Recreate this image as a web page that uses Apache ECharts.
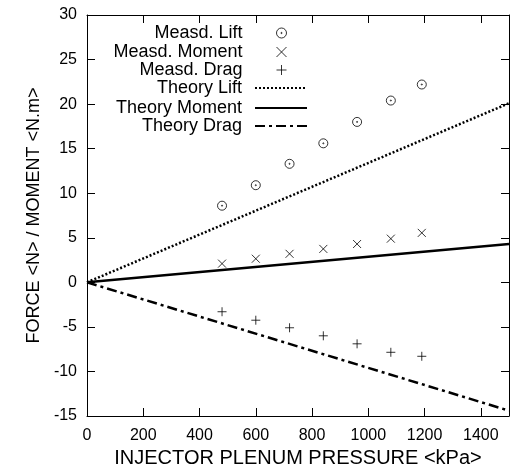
<!DOCTYPE html>
<html>
<head>
<meta charset="utf-8">
<script src="https://cdn.jsdelivr.net/npm/echarts@6/dist/echarts.min.js"></script>
<style>html,body{margin:0;padding:0;background:#fff}#c{width:510px;height:472px}</style>
</head>
<body>
<div id="c"></div>
<script>
var pressure = [480, 600, 720, 840, 960, 1080, 1190];
var measLift = [8.6, 10.9, 13.3, 15.6, 18.0, 20.4, 22.2];
var measMoment = [2.1, 2.65, 3.2, 3.75, 4.3, 4.9, 5.55];
var measDrag = [-3.3, -4.25, -5.1, -6.0, -6.9, -7.85, -8.3];
var theoryX = [0, 1500];
var theoryLift = [0, 20.1];
var theoryMoment = [0, 4.3];
var theoryDrag = [0, -14.4];
var xTicks = [0, 200, 400, 600, 800, 1000, 1200, 1400];
var yTicks = [-15, -10, -5, 0, 5, 10, 15, 20, 25, 30];

function pairs(xs, ys) { return xs.map(function (x, i) { return [x, ys[i]]; }); }

var FONT = 'Liberation Sans';
var NARROW = '"Liberation Sans Narrow", "Arial Narrow", "Liberation Sans"';
var circleDot = 'path://M5,0A5,5,0,1,1,5,10A5,5,0,1,1,5,0ZM5,4.4A0.6,0.6,0,1,1,5,5.6A0.6,0.6,0,1,1,5,4.4Z';
var crossX = 'path://M0,0L10,10M10,0L0,10';
var plus = 'path://M5,0L5,10M0,5L10,5';

var names = ['Measd. Lift', 'Measd. Moment', 'Measd. Drag', 'Theory Lift', 'Theory Moment', 'Theory Drag'];
var rowTops = [24, 43, 61, 79, 99, 117];
var scatterStyle = { color: 'none', borderColor: '#000', borderWidth: 1 };
var legends = names.map(function (n, i) {
  var isLine = i >= 3;
  return {
    data: [n], right: isLine ? 202 : 221, top: rowTops[i], orient: 'vertical', align: 'right',
    itemWidth: 52, itemHeight: 10, padding: 0, symbolKeepAspect: true,
    itemStyle: isLine ? { opacity: 0 } : scatterStyle,
    textStyle: { fontFamily: FONT, fontSize: 18, color: '#000', lineHeight: 18, padding: [0, 8, 0, 0] }
  };
});

var xTickSet = {}; xTicks.forEach(function (v) { xTickSet[v] = true; });
var yTickSet = {}; yTicks.forEach(function (v) { yTickSet[v] = true; });

function xAxisBase(pos, labels) {
  return {
    type: 'value', position: pos, min: 0, max: 1500, interval: 200,
    axisLine: { show: true, onZero: false, lineStyle: { color: '#000', width: 1 } },
    axisTick: { show: true, inside: true, length: 8, lineStyle: { color: '#000' } },
    axisLabel: { show: labels, color: '#000', fontFamily: NARROW, fontSize: 16, margin: 12,
      formatter: function (v) { return xTickSet[v] ? String(v) : ''; } },
    splitLine: { show: false }
  };
}
function yAxisBase(pos, labels) {
  return {
    type: 'value', position: pos, min: -15, max: 30, interval: 5,
    axisLine: { show: true, onZero: false, lineStyle: { color: '#000', width: 1 } },
    axisTick: { show: true, inside: true, length: 8, lineStyle: { color: '#000' } },
    axisLabel: { show: labels, color: '#000', fontFamily: NARROW, fontSize: 16, margin: 10,
      formatter: function (v) { return yTickSet[v] ? String(v) : ''; } },
    splitLine: { show: false }
  };
}
var xb = xAxisBase('bottom', true);
xb.name = 'INJECTOR PLENUM PRESSURE <kPa>';
xb.nameLocation = 'middle'; xb.nameGap = 30;
xb.nameTextStyle = { fontFamily: FONT, fontSize: 20, color: '#000' };
var yl = yAxisBase('left', true);
yl.name = 'FORCE <N> / MOMENT <N.m>';
yl.nameLocation = 'middle'; yl.nameGap = 42;
yl.nameTextStyle = { fontFamily: FONT, fontSize: 18, color: '#000' };

var option = {
  animation: false,
  backgroundColor: '#fff',
  legend: legends,
  grid: { left: 87, right: 1, top: 15, bottom: 56, containLabel: false, outerBoundsMode: 'none' },
  xAxis: [xb, xAxisBase('top', false)],
  yAxis: [yl, yAxisBase('right', false)],
  series: [
    { name: names[0], type: 'scatter', data: pairs(pressure, measLift), symbol: circleDot, symbolSize: 9, symbolKeepAspect: true, itemStyle: scatterStyle },
    { name: names[1], type: 'scatter', data: pairs(pressure, measMoment), symbol: crossX, symbolSize: 8, itemStyle: scatterStyle },
    { name: names[2], type: 'scatter', data: pairs(pressure, measDrag), symbol: plus, symbolSize: 9, itemStyle: scatterStyle },
    { name: names[3], type: 'line', data: pairs(theoryX, theoryLift), symbol: 'none', color: '#000', lineStyle: { color: '#000', width: 2.5, type: [2, 2] } },
    { name: names[4], type: 'line', data: pairs(theoryX, theoryMoment), symbol: 'none', color: '#000', lineStyle: { color: '#000', width: 2.5, type: 'solid' } },
    { name: names[5], type: 'line', data: pairs(theoryX, theoryDrag), symbol: 'none', color: '#000', lineStyle: { color: '#000', width: 2.5, type: [10, 4, 3, 4] } }
  ]
};
var chart = echarts.init(document.getElementById('c'), null, { renderer: 'canvas' });
chart.setOption(option);
</script>
</body>
</html>
